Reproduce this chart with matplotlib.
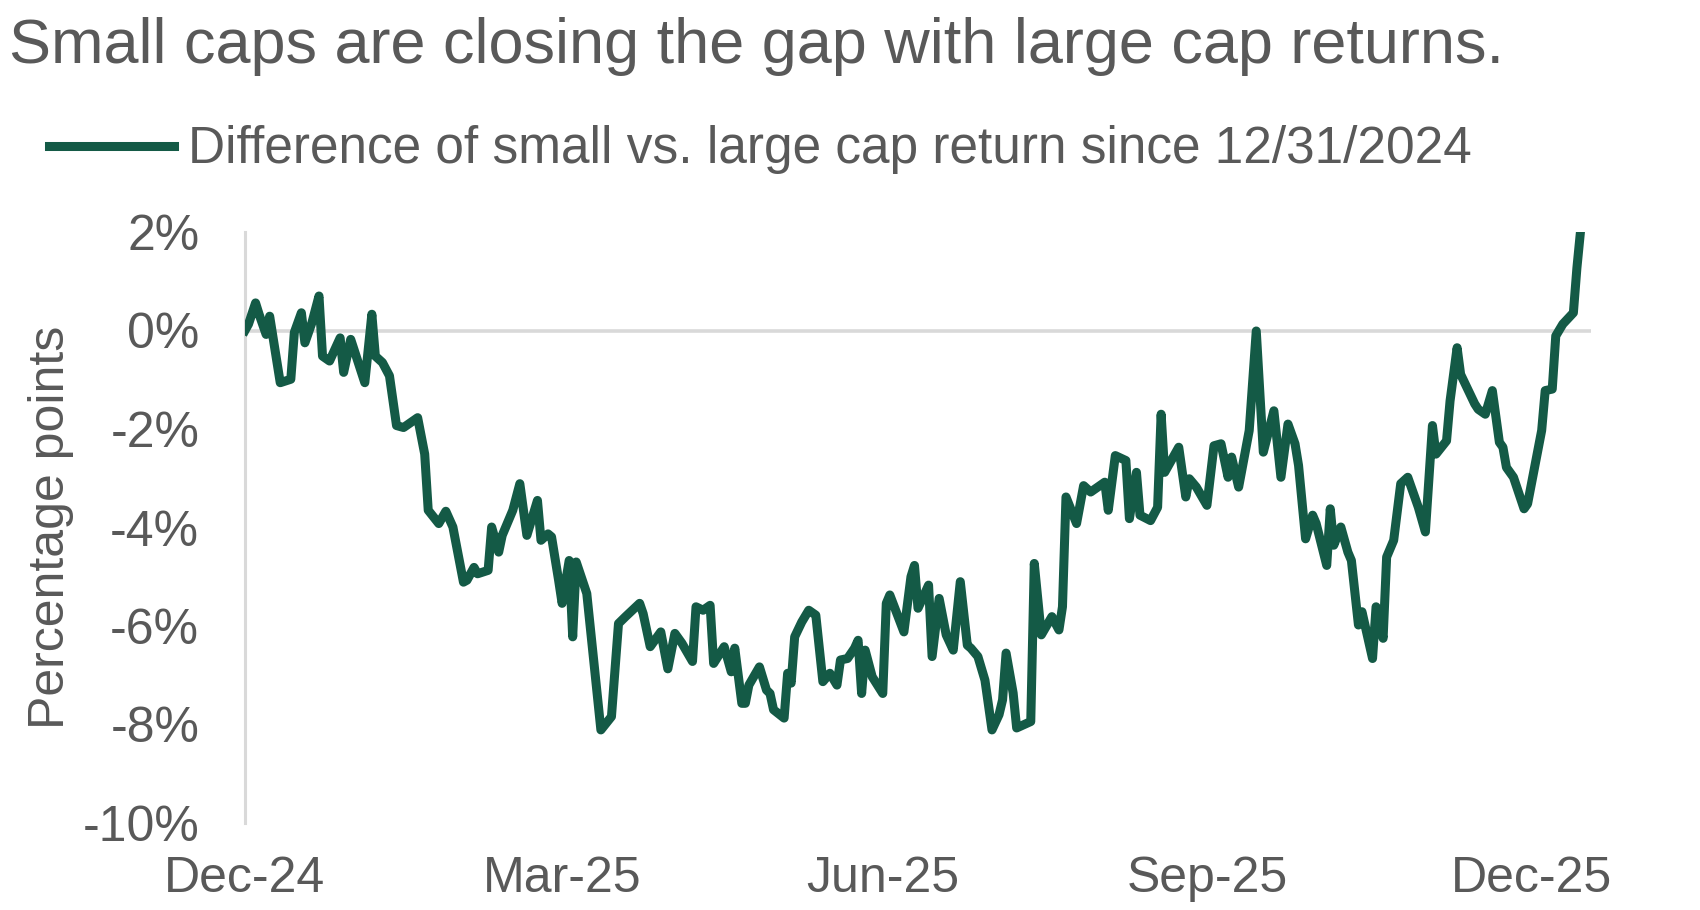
import pandas as pd
import matplotlib
matplotlib.use("Agg")
import matplotlib.pyplot as plt
import matplotlib.dates as mdates

# difference of small vs. large cap return since 12/31/2024, percentage points
dates = [
    "2024-12-31", "2025-01-01", "2025-01-03", "2025-01-04", "2025-01-06", "2025-01-07",
    "2025-01-10", "2025-01-13", "2025-01-14", "2025-01-16", "2025-01-17", "2025-01-19",
    "2025-01-21", "2025-01-22", "2025-01-24", "2025-01-27", "2025-01-28", "2025-01-30",
    "2025-02-01", "2025-02-03", "2025-02-05", "2025-02-06", "2025-02-08", "2025-02-10",
    "2025-02-12", "2025-02-14", "2025-02-18", "2025-02-20", "2025-02-21", "2025-02-24",
    "2025-02-26", "2025-02-28", "2025-03-03", "2025-03-04", "2025-03-06", "2025-03-07",
    "2025-03-10", "2025-03-11", "2025-03-13", "2025-03-14", "2025-03-17", "2025-03-19",
    "2025-03-21", "2025-03-24", "2025-03-25", "2025-03-27", "2025-03-28", "2025-03-30",
    "2025-03-31", "2025-04-02", "2025-04-03", "2025-04-04", "2025-04-07", "2025-04-11",
    "2025-04-14", "2025-04-16", "2025-04-18", "2025-04-22", "2025-04-23", "2025-04-25",
    "2025-04-28", "2025-04-30", "2025-05-02", "2025-05-04", "2025-05-07", "2025-05-08",
    "2025-05-10", "2025-05-12", "2025-05-13", "2025-05-16", "2025-05-18", "2025-05-19",
    "2025-05-21", "2025-05-22", "2025-05-23", "2025-05-26", "2025-05-28", "2025-05-29",
    "2025-05-30", "2025-06-02", "2025-06-03", "2025-06-04", "2025-06-05", "2025-06-07",
    "2025-06-09", "2025-06-11", "2025-06-13", "2025-06-15", "2025-06-17", "2025-06-18",
    "2025-06-20", "2025-06-22", "2025-06-23", "2025-06-24", "2025-06-25", "2025-06-27",
    "2025-06-30", "2025-07-01", "2025-07-02", "2025-07-06", "2025-07-08", "2025-07-09",
    "2025-07-10", "2025-07-13", "2025-07-14", "2025-07-16", "2025-07-18", "2025-07-20",
    "2025-07-22", "2025-07-24", "2025-07-25", "2025-07-27", "2025-07-29", "2025-07-31",
    "2025-08-02", "2025-08-03", "2025-08-04", "2025-08-06", "2025-08-07", "2025-08-11",
    "2025-08-12", "2025-08-14", "2025-08-17", "2025-08-19", "2025-08-20", "2025-08-21",
    "2025-08-24", "2025-08-26", "2025-08-28", "2025-09-01", "2025-09-02", "2025-09-04",
    "2025-09-07", "2025-09-08", "2025-09-10", "2025-09-11", "2025-09-14", "2025-09-16",
    "2025-09-17", "2025-09-18", "2025-09-22", "2025-09-24", "2025-09-25", "2025-09-27",
    "2025-09-30", "2025-10-02", "2025-10-04", "2025-10-06", "2025-10-07", "2025-10-09",
    "2025-10-12", "2025-10-14", "2025-10-16", "2025-10-19", "2025-10-21", "2025-10-23",
    "2025-10-25", "2025-10-26", "2025-10-28", "2025-10-30", "2025-10-31", "2025-11-03",
    "2025-11-04", "2025-11-05", "2025-11-07", "2025-11-09", "2025-11-10", "2025-11-12",
    "2025-11-13", "2025-11-16", "2025-11-17", "2025-11-19", "2025-11-20", "2025-11-22",
    "2025-11-24", "2025-11-26", "2025-11-29", "2025-12-01", "2025-12-03", "2025-12-04",
    "2025-12-07", "2025-12-08", "2025-12-10", "2025-12-11", "2025-12-15", "2025-12-16",
    "2025-12-18", "2025-12-20", "2025-12-22", "2025-12-23", "2025-12-24", "2025-12-26",
    "2025-12-29", "2025-12-30", "2026-01-03", "2026-01-04", "2026-01-06", "2026-01-07",
    "2026-01-09", "2026-01-12", "2026-01-13", "2026-01-14",
]
diff = [
    0.00, 0.13, 0.56, 0.33, -0.08, 0.29,
    -1.06, -0.99, -0.04, 0.36, -0.25, 0.16,
    0.70, -0.52, -0.62, -0.15, -0.85, -0.18,
    -0.62, -1.06, 0.33, -0.52, -0.65, -0.92,
    -1.93, -1.97, -1.77, -2.51, -3.65, -3.92,
    -3.67, -3.99, -5.11, -5.07, -4.81, -4.94,
    -4.87, -3.99, -4.50, -4.16, -3.65, -3.11,
    -4.16, -3.45, -4.26, -4.13, -4.19, -5.07,
    -5.54, -4.67, -6.22, -4.70, -5.34, -8.11,
    -7.84, -5.95, -5.81, -5.54, -5.75, -6.42,
    -6.12, -6.87, -6.15, -6.35, -6.72, -5.61,
    -5.68, -5.58, -6.76, -6.42, -6.93, -6.45,
    -7.57, -7.57, -7.20, -6.83, -7.30, -7.37,
    -7.70, -7.87, -6.96, -7.16, -6.22, -5.92,
    -5.68, -5.78, -7.13, -6.96, -7.20, -6.69,
    -6.66, -6.45, -6.29, -7.37, -6.49, -7.03,
    -7.37, -5.54, -5.37, -6.12, -5.00, -4.77,
    -5.64, -5.17, -6.62, -5.44, -6.18, -6.49,
    -5.10, -6.39, -6.45, -6.62, -7.10, -8.11,
    -7.80, -7.50, -6.55, -7.36, -8.07, -7.94,
    -4.73, -6.18, -5.81, -6.08, -5.61, -3.38,
    -3.92, -3.15, -3.28, -3.08, -3.65, -2.54,
    -2.64, -3.82, -2.88, -3.75, -3.86, -3.59,
    -1.70, -2.88, -2.37, -3.38, -3.01, -3.18,
    -3.55, -2.34, -2.30, -2.98, -2.57, -3.18,
    -2.03, -0.01, -2.47, -1.63, -2.98, -1.90,
    -2.30, -2.74, -4.23, -3.75, -3.92, -4.77,
    -3.62, -4.36, -3.99, -4.50, -4.67, -5.98,
    -5.71, -6.66, -5.61, -6.25, -4.60, -4.26,
    -3.11, -2.98, -3.59, -4.09, -1.93, -2.51,
    -2.24, -1.43, -0.35, -0.89, -1.49, -1.60,
    -1.70, -1.22, -2.27, -2.37, -2.78, -2.98,
    -3.62, -3.52, -2.03, -1.22, -1.19, -0.11,
    0.13, 0.36, 1.27, 2.00,
]

xtick_dates = ["2024-12-31", "2025-03-31", "2025-06-30", "2025-09-30", "2025-12-31"]
yticks = [2, 0, -2, -4, -6, -8, -10]

title = "Small caps are closing the gap with large cap returns."
series_name = "Difference of small vs. large cap return since 12/31/2024"

GREEN = "#145a46"
GREY_TXT = "#595959"
GREY_LINE = "#d9d9d9"

plt.rcParams["font.family"] = ["Liberation Sans", "DejaVu Sans"]

W, H = 1700, 910
fig = plt.figure(figsize=(W / 100, H / 100), dpi=100)
ax = fig.add_axes([245 / W, 1 - 823 / H, (1591 - 245) / W, (823 - 232) / H])

x = pd.to_datetime(dates)
ax.axhline(0, color=GREY_LINE, lw=2.6, zorder=1)
line, = ax.plot(x, diff, color=GREEN, lw=6.5, zorder=3, label=series_name)

ax.set_xlim(pd.Timestamp("2024-12-31"), pd.Timestamp("2026-01-17"))
ax.set_ylim(-10, 2)

ax.set_xticks(pd.to_datetime(xtick_dates))
ax.xaxis.set_major_formatter(mdates.DateFormatter("%b-%y"))
ax.set_yticks(yticks)
ax.set_yticklabels([f"{v}%" for v in yticks])
ax.tick_params(axis="both", length=0, labelsize=36, labelcolor=GREY_TXT)
ax.tick_params(axis="y", pad=33)
ax.tick_params(axis="x", pad=24)

for side in ["top", "right", "bottom"]:
    ax.spines[side].set_visible(False)
ax.spines["left"].set_color(GREY_LINE)
ax.spines["left"].set_linewidth(2.2)

fig.text(51 / W, 1 - 527 / H, "Percentage points", rotation=90,
         ha="center", va="center", fontsize=36, color=GREY_TXT)

fig.text(9 / W, 1 - 63 / H, title, ha="left", va="baseline",
         fontsize=45.4, color=GREY_TXT)

leg = ax.legend(handles=[line], loc="center left",
                bbox_to_anchor=(49 / W, 1 - 150 / H), bbox_transform=fig.transFigure,
                frameon=False, fontsize=37, handlelength=2.43, handletextpad=0.28,
                borderpad=0, borderaxespad=0)
for t in leg.get_texts():
    t.set_color(GREY_TXT)

fig.savefig("out.png", dpi=100)
